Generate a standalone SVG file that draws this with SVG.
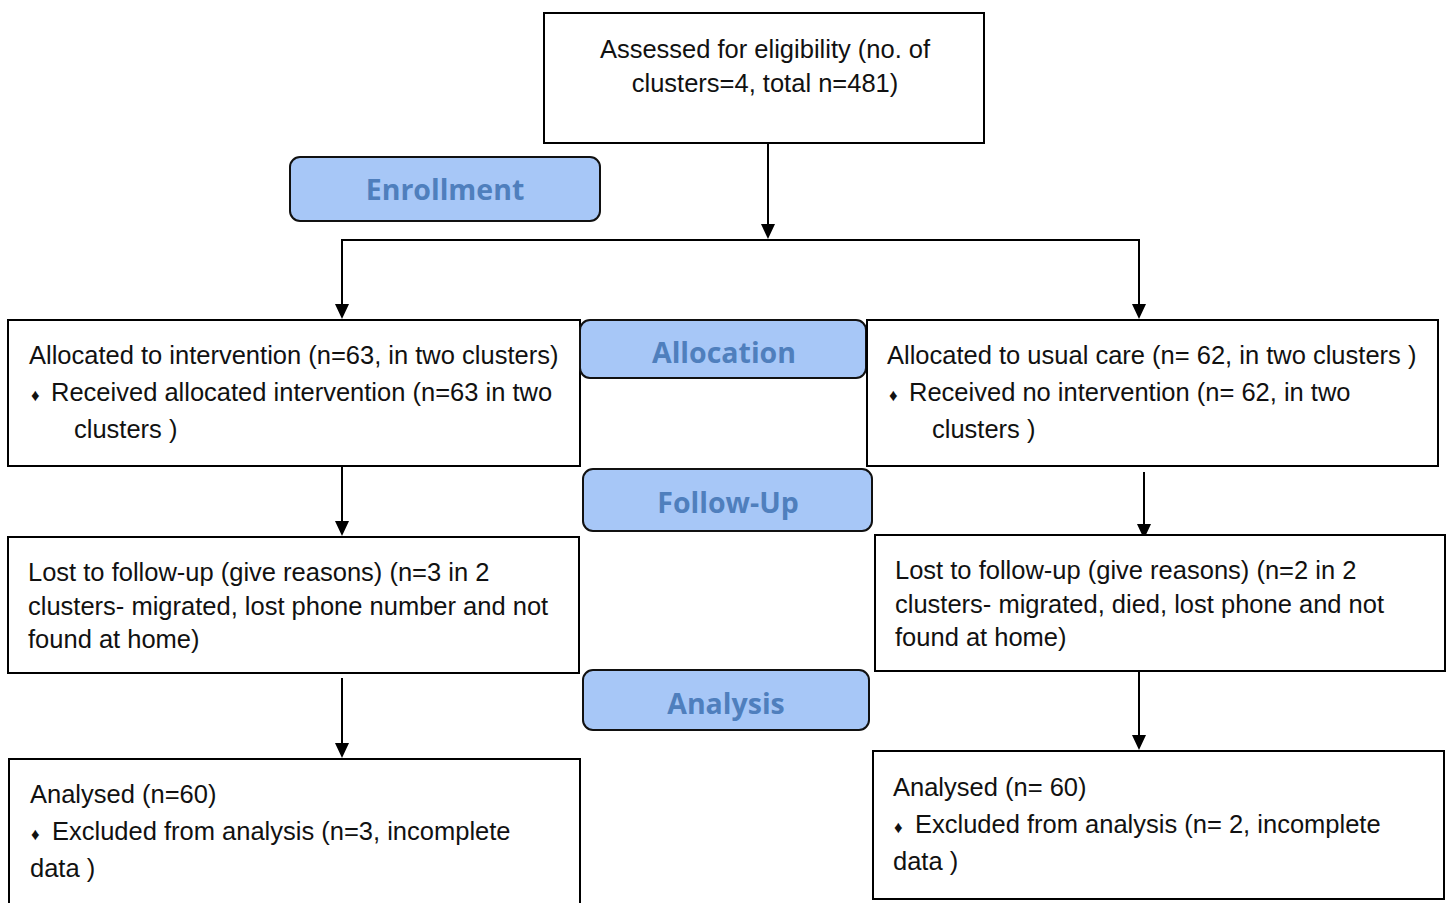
<svg xmlns="http://www.w3.org/2000/svg" width="1448" height="903" viewBox="0 0 1448 903">
<defs>
<style>
.box{fill:#fff;stroke:#000;stroke-width:2}
.lab{fill:#a7c7f7;stroke:#111;stroke-width:2}
.t{font-family:"Liberation Sans",Arial,sans-serif;font-size:25.5px;fill:#111}
.b{font-size:17px}
.h{font-family:"Open Sans","Noto Sans",sans-serif;font-weight:bold;font-size:28.5px;fill:#4f7fbd;text-anchor:middle}
.c{stroke:#000;stroke-width:2;fill:none}
.ah{fill:#000}
</style>
</defs>
<rect width="1448" height="903" fill="#fff"/>
<g id="connectors">
<line class="c" x1="768" y1="143" x2="768" y2="226"/>
<path class="ah" d="M761,224 L775,224 L768,239 Z"/>
<path class="c" d="M342,306 L342,240 L1139,240 L1139,306"/>
<path class="ah" d="M335,304 L349,304 L342,319 Z"/>
<path class="ah" d="M1132,304 L1146,304 L1139,319 Z"/>
<line class="c" x1="342" y1="466" x2="342" y2="523"/>
<path class="ah" d="M335,521 L349,521 L342,536 Z"/>
<line class="c" x1="1144" y1="472" x2="1144" y2="526"/>
<path class="ah" d="M1137,524 L1151,524 L1144,539 Z"/>
<line class="c" x1="342" y1="678" x2="342" y2="745"/>
<path class="ah" d="M335,743 L349,743 L342,758 Z"/>
<line class="c" x1="1139" y1="671" x2="1139" y2="737"/>
<path class="ah" d="M1132,735 L1146,735 L1139,750 Z"/>
</g>
<g id="assessed">
<rect class="box" x="544" y="13" width="440" height="130"/>
<text class="t" x="765" y="58" text-anchor="middle">Assessed for eligibility (no. of</text>
<text class="t" x="765" y="92" text-anchor="middle">clusters=4, total n=481)</text>
</g>
<g id="enrollment">
<rect class="lab" x="290" y="157" width="310" height="64" rx="10"/>
<text class="h" x="445" y="200">Enrollment</text>
</g>
<g id="alloc-int">
<rect class="box" x="8" y="320" width="572" height="146"/>
<text class="t" x="29" y="364">Allocated to intervention (n=63, in two clusters)</text>
<text class="t" y="401"><tspan class="b" x="31">♦</tspan><tspan x="51">Received allocated intervention (n=63 in two</tspan></text>
<text class="t" x="74" y="438">clusters )</text>
</g>
<g id="allocation">
<rect class="lab" x="580" y="320" width="286" height="58" rx="10"/>
<text class="h" x="724" y="363">Allocation</text>
</g>
<g id="alloc-usual">
<rect class="box" x="867" y="320" width="571" height="146"/>
<text class="t" x="887" y="364">Allocated to usual care (n= 62, in two clusters )</text>
<text class="t" y="401"><tspan class="b" x="889">♦</tspan><tspan x="909">Received no intervention (n= 62, in two</tspan></text>
<text class="t" x="932" y="438">clusters )</text>
</g>
<g id="followup">
<rect class="lab" x="583" y="469" width="289" height="62" rx="10"/>
<text class="h" x="728" y="513">Follow-Up</text>
</g>
<g id="lost-int">
<rect class="box" x="8" y="537" width="571" height="136"/>
<text class="t" x="28" y="581">Lost to follow-up (give reasons) (n=3 in 2</text>
<text class="t" x="28" y="615">clusters- migrated, lost phone number and not</text>
<text class="t" x="28" y="648">found at home)</text>
</g>
<g id="lost-usual">
<rect class="box" x="875" y="535" width="570" height="136"/>
<text class="t" x="895" y="579">Lost to follow-up (give reasons) (n=2 in 2</text>
<text class="t" x="895" y="613">clusters- migrated, died, lost phone and not</text>
<text class="t" x="895" y="646">found at home)</text>
</g>
<g id="analysis">
<rect class="lab" x="583" y="670" width="286" height="60" rx="10"/>
<text class="h" x="726" y="714">Analysis</text>
</g>
<g id="analysed-int">
<rect class="box" x="9" y="759" width="571" height="160"/>
<text class="t" x="30" y="803">Analysed (n=60)</text>
<text class="t" y="840"><tspan class="b" x="31">♦</tspan><tspan x="52">Excluded from analysis (n=3, incomplete</tspan></text>
<text class="t" x="30" y="877">data )</text>
</g>
<g id="analysed-usual">
<rect class="box" x="873" y="751" width="571" height="148"/>
<text class="t" x="893" y="796">Analysed (n= 60)</text>
<text class="t" y="833"><tspan class="b" x="894">♦</tspan><tspan x="915">Excluded from analysis (n= 2, incomplete</tspan></text>
<text class="t" x="893" y="870">data )</text>
</g>
</svg>
